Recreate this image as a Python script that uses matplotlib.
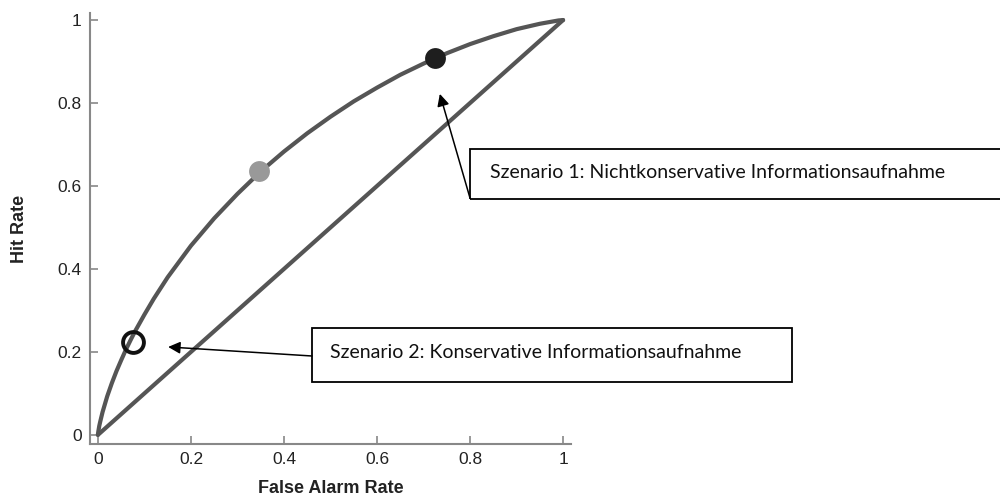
import matplotlib
matplotlib.use('Agg')
import matplotlib.pyplot as plt
from matplotlib.patches import Rectangle

# ROC curve (false alarm rate vs. hit rate)
roc_fa = [0.0, 0.0001, 0.0003, 0.001, 0.003, 0.005, 0.01, 0.02, 0.03, 0.04,
          0.05, 0.06, 0.07, 0.08, 0.10, 0.12, 0.15, 0.20, 0.25, 0.30, 0.35,
          0.40, 0.45, 0.50, 0.55, 0.60, 0.65, 0.70, 0.75, 0.80, 0.85, 0.90,
          0.95, 0.975, 0.99, 1.0]
roc_hit = [0.0, 0.0014, 0.0034, 0.009, 0.022, 0.032, 0.055, 0.093, 0.125, 0.154,
           0.180, 0.205, 0.228, 0.250, 0.290, 0.328, 0.380, 0.456, 0.522, 0.581,
           0.635, 0.683, 0.727, 0.767, 0.804, 0.837, 0.868, 0.895, 0.920, 0.942,
           0.961, 0.978, 0.991, 0.996, 0.999, 1.0]

# chance line
diag_fa = [0.0, 1.0]
diag_hit = [0.0, 1.0]

# the three operating points
pt_open = (0.075, 0.224)
pt_gray = (0.346, 0.636)
pt_black = (0.725, 0.908)

ticks = [0, 0.2, 0.4, 0.6, 0.8, 1]
tick_labels = ['0', '0.2', '0.4', '0.6', '0.8', '1']

label_1 = 'Szenario 1: Nichtkonservative Informationsaufnahme'
label_2 = 'Szenario 2: Konservative Informationsaufnahme'
arrow_1_tip = (0.735, 0.822)
arrow_2_tip = (0.151, 0.212)

plt.rcParams['font.family'] = ['Liberation Sans', 'DejaVu Sans']

fig = plt.figure(figsize=(10, 4.96), dpi=100)
ax = fig.add_axes([0.09, 0.1048, 0.481, 0.869])

line_col = '#555555'
ax.plot(roc_fa, roc_hit, color=line_col, lw=3, solid_capstyle='round',
        solid_joinstyle='round', zorder=2)
ax.plot(diag_fa, diag_hit, color=line_col, lw=3, solid_capstyle='round', zorder=2)

ax.plot(*pt_open, 'o', ms=15, mfc='none', mec='#111111', mew=2.8, zorder=3)
ax.plot(*pt_gray, 'o', ms=15, mfc='#999999', mec='none', zorder=3)
ax.plot(*pt_black, 'o', ms=15, mfc='#1e1e1e', mec='none', zorder=3)

ax.set_xlim(-0.017, 1.017)
ax.set_ylim(-0.022, 1.017)
ax.set_xticks(ticks)
ax.set_xticklabels(tick_labels)
ax.set_yticks(ticks)
ax.set_yticklabels(tick_labels)
for s in ['top', 'right']:
    ax.spines[s].set_visible(False)
for s in ['left', 'bottom']:
    ax.spines[s].set_color('#888888')
    ax.spines[s].set_linewidth(1.5)
ax.tick_params(direction='in', length=6, width=1.2, color='#888888',
               labelsize=12.5, labelcolor='#222222', pad=6)

ax.set_xlabel('False Alarm Rate', fontsize=13, fontweight='bold', color='#222222', labelpad=9)
ax.set_ylabel('Hit Rate', fontsize=13, fontweight='bold', color='#222222', labelpad=21)

##### Annotation boxes (figure pixels, origin bottom left) #####
box_kw = dict(fill=False, ec='black', lw=1.3, transform=None, clip_on=False)
fig.patches.append(Rectangle((470, 297), 540, 50, **box_kw))
fig.patches.append(Rectangle((312, 114), 480, 54, **box_kw))

txt_kw = dict(family=['Lato', 'DejaVu Sans'], fontsize=14, color='#111111',
              va='center', ha='left', transform=None)
fig.text(490, 324, label_1, **txt_kw)
fig.text(330, 144, label_2, **txt_kw)

arrow_kw = dict(arrowstyle='-|>', color='black', lw=1.1, mutation_scale=18, shrinkA=0, shrinkB=0)
ax.annotate('', xy=arrow_1_tip, xycoords='data', xytext=(470, 298),
            textcoords='figure pixels', arrowprops=arrow_kw)
ax.annotate('', xy=arrow_2_tip, xycoords='data', xytext=(312, 140),
            textcoords='figure pixels', arrowprops=arrow_kw)

fig.savefig('out.png', dpi=100)
